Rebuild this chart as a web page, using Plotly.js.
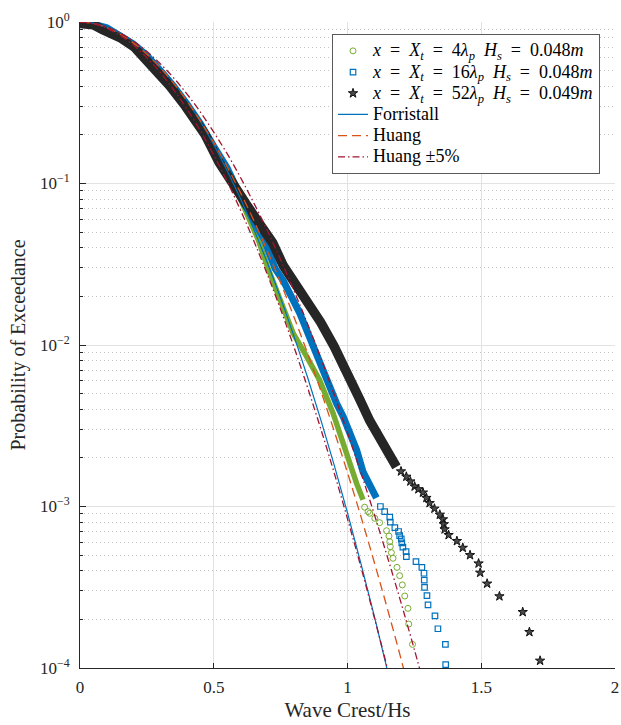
<!DOCTYPE html>
<html><head><meta charset="utf-8">
<script src="https://cdn.plot.ly/plotly-3.0.1.min.js"></script>
<style>html,body{margin:0;padding:0;background:#fff}#chart{width:621px;height:725px}</style>
</head><body><div id="chart"></div>
<script>
// ---- measured series: x = 4 lambda_p (green circles)
const greenDenseX = [0,0.05,0.1,0.15,0.2,0.25,0.3,0.35,0.4,0.45,0.5,0.55,0.6,0.63,0.667,0.703,0.747,0.797,0.847,0.895,0.946,0.984,1.009,1.034,1.058];
const greenDenseP = [0.99,0.97,0.92,0.83,0.73,0.62,0.5,0.4,0.31,0.232,0.165,0.12,0.08,0.062,0.0446,0.0298,0.019,0.0118,0.0085,0.0061,0.00378,0.00246,0.00176,0.00139,0.0011];
const greenTailX = [1.064,1.077,1.083,1.102,1.12,1.146,1.155,1.158,1.160,1.164,1.170,1.185,1.195,1.205,1.214,1.226,1.229,1.243];
const greenTailP = [0.00099,0.00093,0.000908,0.000845,0.000794,0.000708,0.000656,0.000605,0.000564,0.000518,0.000478,0.00042,0.000373,0.000327,0.000279,0.000234,0.000187,0.00014];

// ---- x = 16 lambda_p (blue squares)
const blueDenseX = [0,0.05,0.1,0.15,0.2,0.25,0.3,0.35,0.4,0.45,0.5,0.55,0.6,0.64,0.69,0.729,0.76,0.822,0.872,0.934,0.959,0.984,1.009,1.034,1.058,1.083,1.108];
const blueDenseP = [0.99,0.97,0.92,0.83,0.73,0.62,0.5,0.4,0.31,0.235,0.17,0.125,0.083,0.062,0.0446,0.0298,0.025,0.0157,0.00975,0.0055,0.00435,0.0036,0.00284,0.00224,0.00164,0.00134,0.00113];
const blueTailX = [1.123,1.139,1.158,1.16,1.177,1.191,1.195,1.201,1.203,1.207,1.219,1.22,1.256,1.278,1.286,1.287,1.288,1.297,1.301,1.327,1.338,1.366,1.367];
const blueTailP = [0.001,0.00093,0.00086,0.0008,0.00074,0.0007,0.00066,0.00063,0.000596,0.00056,0.000526,0.00049,0.000456,0.00042,0.000386,0.00035,0.000316,0.000281,0.000246,0.00021,0.000175,0.00014,0.000105];

// ---- x = 52 lambda_p (black stars)
const blackDenseX = [0,0.05,0.083,0.15,0.203,0.25,0.281,0.337,0.395,0.468,0.52,0.567,0.62,0.66,0.72,0.76,0.80,0.85,0.90,0.95,1.0,1.046,1.083,1.133,1.183];
const blackDenseP = [0.98,0.96,0.9,0.8,0.7,0.58,0.5,0.4,0.3,0.2,0.135,0.1,0.075,0.06,0.043,0.031,0.025,0.019,0.0138,0.0098,0.0068,0.0046,0.0034,0.0025,0.00176];
const blackTailX = [1.20,1.22,1.235,1.251,1.265,1.282,1.295,1.307,1.325,1.345,1.357,1.360,1.363,1.378,1.409,1.431,1.458,1.490,1.496,1.522,1.568,1.655,1.680,1.720];
const blackTailP = [0.00165,0.00153,0.00143,0.00133,0.00128,0.00122,0.00113,0.00105,0.00097,0.00089,0.000833,0.000777,0.000722,0.000666,0.000611,0.000555,0.0005,0.000444,0.000389,0.000333,0.000278,0.000222,0.000167,0.000111];

// ---- theoretical curves
const thX = [0,0.05,0.1,0.15,0.2,0.25,0.3,0.35,0.4,0.45,0.5,0.55,0.6,0.65,0.7,0.75,0.8,0.85,0.9,0.95,1.0,1.05,1.1,1.15,1.2,1.25,1.3];
const forristallP = [1,0.983,0.932,0.854,0.756,0.646,0.533,0.424,0.326,0.242,0.174,0.120,0.0805,0.0519,0.0324,0.0195,0.0113,0.00636,0.00345,0.00181,0.000912,0.000445,0.000210,0.0000953,0.000042,0.0000178,0.0000073];
const huangP = [1,0.979,0.922,0.840,0.740,0.631,0.521,0.417,0.324,0.244,0.179,0.127,0.0878,0.0589,0.0383,0.0243,0.0149,0.00894,0.00521,0.00294,0.00162,0.000868,0.000452,0.000230,0.000114,0.000054,0.000026];
const huangHiP = [1,0.980,0.929,0.853,0.760,0.657,0.552,0.451,0.358,0.277,0.208,0.153,0.109,0.0756,0.0512,0.0337,0.0217,0.0136,0.00829,0.00494,0.00286,0.00162,0.000897,0.000482,0.000254,0.000130,0.000065];
const huangLoP = [1,0.976,0.915,0.825,0.717,0.601,0.487,0.381,0.289,0.212,0.150,0.103,0.0684,0.0440,0.0274,0.0166,0.00970,0.00550,0.00303,0.00162,0.000839,0.000423,0.000206,0.0000984,0.000045,0.000020,0.0000086];

// ---- labels
const EQ = '\u2002=\u2002', SP = '\u2002';
const seriesNames = [
  '<i>x</i>'+EQ+'<i>X</i><sub><i>t</i></sub>'+EQ+'4<i>λ</i><sub><i>p</i></sub>'+SP+'<i>H</i><sub><i>s</i></sub>'+EQ+'0.048<i>m</i>',
  '<i>x</i>'+EQ+'<i>X</i><sub><i>t</i></sub>'+EQ+'16<i>λ</i><sub><i>p</i></sub>'+SP+'<i>H</i><sub><i>s</i></sub>'+EQ+'0.048<i>m</i>',
  '<i>x</i>'+EQ+'<i>X</i><sub><i>t</i></sub>'+EQ+'52<i>λ</i><sub><i>p</i></sub>'+SP+'<i>H</i><sub><i>s</i></sub>'+EQ+'0.049<i>m</i>'
];
const lineNames = ['Forristall','Huang','Huang ±5%'];
const xTicks = [0,0.5,1,1.5,2];
const xTickText = ['0','0.5','1','1.5','2'];
const yTicks = [1e-4,1e-3,1e-2,1e-1,1];
const yTickText = ['10<sup>−4</sup>','10<sup>−3</sup>','10<sup>−2</sup>','10<sup>−1</sup>','10<sup>0</sup>'];

const C_GREEN='#77AC30', C_BLUE='#0072BD', C_BLACK='#262626', C_ORANGE='#D95319', C_RED='#A2142F';
const SERIF="'Liberation Serif', 'DejaVu Serif', serif";
const big = s => '<span style="font-size:18px">'+s+'</span>';

const minorVals=[];
for(let e=-4;e<0;e++){for(let m=2;m<=9;m++){minorVals.push(m*Math.pow(10,e));}}

function band(x,y,color,w){return {x:x,y:y,mode:'lines',line:{color:color,width:w},showlegend:false,hoverinfo:'skip'};}
const traces=[
  band(greenDenseX,greenDenseP,C_GREEN,5.5),
  {x:greenTailX,y:greenTailP,mode:'markers',name:big(seriesNames[0]),
   marker:{symbol:'circle-open',size:6,color:C_GREEN,line:{width:1,color:C_GREEN}}},
  band(blueDenseX,blueDenseP,C_BLUE,7),
  {x:blueTailX,y:blueTailP,mode:'markers',name:big(seriesNames[1]),
   marker:{symbol:'square-open',size:5.5,color:C_BLUE,line:{width:1.2,color:C_BLUE}}},
  band(blackDenseX,blackDenseP,C_BLACK,9.5),
  {x:blackTailX,y:blackTailP,mode:'markers',name:big(seriesNames[2]),
   marker:{symbol:'star',size:7,color:'#4a4a4a',line:{width:1,color:'#111111'}}},
  {x:thX,y:forristallP,mode:'lines',name:big(lineNames[0]),line:{color:C_BLUE,width:1.2,shape:'spline'}},
  {x:thX,y:huangP,mode:'lines',name:big(lineNames[1]),line:{color:C_ORANGE,width:1.3,dash:'9px,5px',shape:'spline'}},
  {x:thX,y:huangHiP,mode:'lines',name:big(lineNames[2]),legendgroup:'pm',line:{color:C_RED,width:1.3,dash:'7px,3px,1.5px,3px',shape:'spline'}},
  {x:thX,y:huangLoP,mode:'lines',name:big(lineNames[2]),legendgroup:'pm',showlegend:false,line:{color:C_RED,width:1.3,dash:'7px,3px,1.5px,3px',shape:'spline'}}
];

const layout={
  width:621,height:725,
  margin:{l:80,r:6,t:22,b:57,pad:0},
  paper_bgcolor:'#ffffff',plot_bgcolor:'#ffffff',
  font:{family:SERIF,size:17,color:'#262626'},
  showlegend:true,
  legend:{x:0.972,y:0.981,xanchor:'right',yanchor:'top',bgcolor:'#ffffff',bordercolor:'#5a5a5a',borderwidth:1,
          font:{family:SERIF,size:14,color:'#000'},tracegroupgap:0,itemwidth:30},
  xaxis:{range:[0,2],tickvals:xTicks,ticktext:xTickText,ticks:'inside',ticklen:5,tickcolor:'#262626',
         showline:true,linecolor:'#262626',linewidth:1,showgrid:true,gridcolor:'#e2e2e2',gridwidth:1,
         zeroline:false,ticklabelstandoff:4,tickfont:{family:SERIF,size:17},
         title:{text:'Wave Crest/Hs',font:{family:SERIF,size:21,color:'#262626'},standoff:5}},
  yaxis:{type:'log',range:[-4,0],tickvals:yTicks,ticktext:yTickText,ticks:'inside',ticklen:6,tickcolor:'#262626',
         showline:true,linecolor:'#262626',linewidth:1,showgrid:true,gridcolor:'#e2e2e2',gridwidth:1,
         zeroline:false,ticklabelstandoff:6,tickfont:{family:SERIF,size:17},
         minor:{tickvals:minorVals,ticks:'inside',ticklen:3,tickcolor:'#262626',showgrid:true,gridcolor:'#c4c4c4',griddash:'1px,3px',gridwidth:1},
         title:{text:'Probability of Exceedance',font:{family:SERIF,size:20,color:'#262626'},standoff:8}}
};
Plotly.newPlot('chart',traces,layout,{displayModeBar:false,staticPlot:true});
</script></body></html>
